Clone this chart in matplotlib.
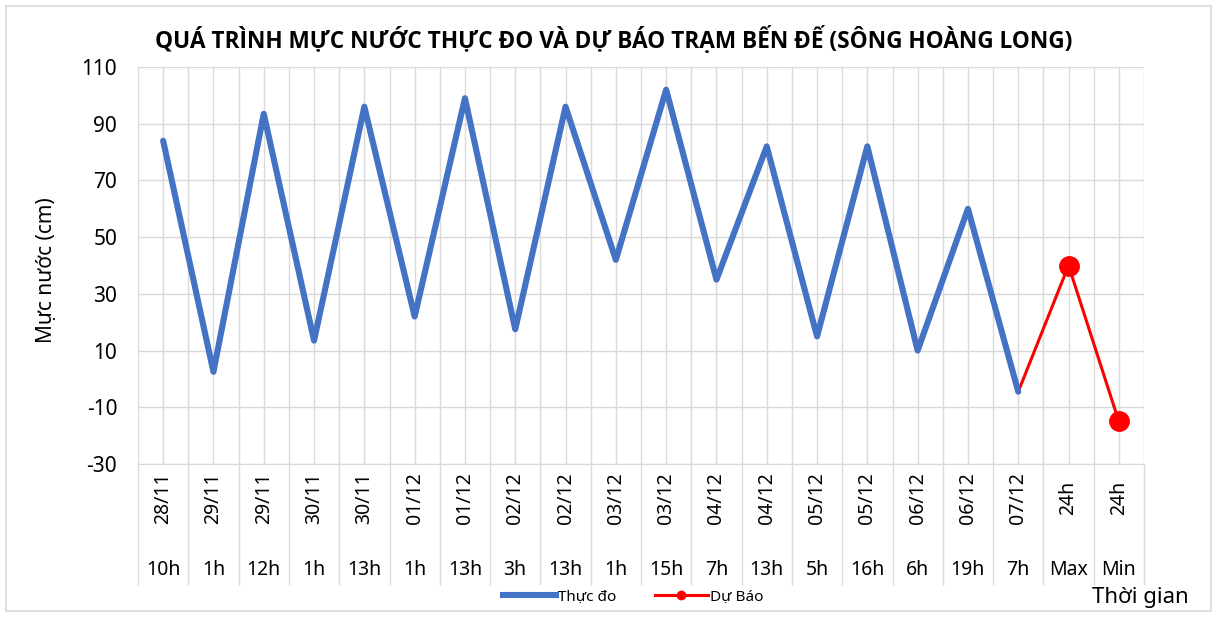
import numpy as np
import matplotlib
matplotlib.use('Agg')
import matplotlib.pyplot as plt
from matplotlib.lines import Line2D
from matplotlib.patches import Rectangle
import matplotlib.transforms as mtransforms

plt.rcParams['font.family'] = ['Noto Sans', 'DejaVu Sans']

# Category labels (two-level axis as in the Excel chart)
dates = ['28/11', '29/11', '29/11', '30/11', '30/11', '01/12', '01/12', '02/12', '02/12', '03/12',
         '03/12', '04/12', '04/12', '05/12', '05/12', '06/12', '06/12', '07/12', '24h', '24h']
hours = ['10h', '1h', '12h', '1h', '13h', '1h', '13h', '3h', '13h', '1h',
         '15h', '7h', '13h', '5h', '16h', '6h', '19h', '7h', 'Max', 'Min']

# Measured water level (cm), points 0..17
thuc_do = [84, 2.5, 93.5, 13.5, 96, 22, 99, 17.5, 96, 42, 102, 35, 82, 15, 82, 10, 60, -4.5]
# Forecast (cm), starts at the last measured point
du_bao = [-4.5, 40, -15]

yticks = [-30, -10, 10, 30, 50, 70, 90, 110]

W, H = 1217, 617
fig = plt.figure(figsize=(W / 100, H / 100), dpi=100)

# outer chart border
fig.patches.append(Rectangle((6 / W, 6 / H), 1 - 12 / W, 1 - 12 / H, transform=fig.transFigure,
                             fill=False, edgecolor='#D9D9D9', linewidth=1.2))

ax = fig.add_axes([138 / W, 1 - 464 / H, (1144 - 138) / W, (464 - 67) / H])

n = len(dates)
x_all = np.arange(n)
x_obs = x_all[:len(thuc_do)]
x_fc = x_all[len(thuc_do) - 1:]

ax.plot(x_fc, du_bao, color='#FF0000', linewidth=2.2, zorder=3)
ax.plot(x_fc[1:], du_bao[1:], 'o', color='#FF0000', markersize=14, zorder=4)
ax.plot(x_obs, thuc_do, color='#4472C4', linewidth=4.4, solid_capstyle='round',
        solid_joinstyle='round', zorder=3)

ax.set_xlim(-0.5, n - 0.5)
ax.set_ylim(-30, 110)
ax.set_yticks(yticks)
ax.set_yticklabels([str(v) for v in yticks], fontsize=15)
ax.tick_params(axis='y', length=0, pad=15)

# boundaries between categories: long ticks downward form the separators
ax.set_xticks(np.arange(-0.5, n, 1.0))
ax.set_xticks(x_all, minor=True)
ax.set_xticklabels([])
ax.tick_params(axis='x', which='major', direction='out', length=87, color='#D9D9D9', width=1)
ax.tick_params(axis='x', which='minor', length=0)
ax.grid(True, which='both', axis='x', color='#D9D9D9', linewidth=1)
ax.grid(True, which='major', axis='y', color='#D9D9D9', linewidth=1)
ax.set_axisbelow(True)
for s in ['top', 'right', 'left']:
    ax.spines[s].set_visible(False)
ax.spines['bottom'].set_color('#D9D9D9')

trans = mtransforms.blended_transform_factory(ax.transData, fig.transFigure)
for i in range(n):
    ax.text(i, 1 - 498 / H, dates[i], rotation=90, ha='center', va='center',
            fontsize=14, transform=trans)
    ax.text(i, 1 - 570 / H, hours[i], ha='center', va='center',
            fontsize=14, transform=trans)

fig.text(614 / W, 1 - 40 / H,
         'QUÁ TRÌNH MỰC NƯỚC THỰC ĐO VÀ DỰ BÁO TRẠM BẾN ĐẾ (SÔNG HOÀNG LONG)',
         ha='center', va='center', fontsize=16.3, fontweight='bold',
         family=['Open Sans', 'DejaVu Sans'])
fig.text(47 / W, 1 - 270 / H, 'Mực nước (cm)', rotation=90, ha='center', va='center', fontsize=15)
fig.text(1092 / W, 1 - 597 / H, 'Thời gian', ha='left', va='center', fontsize=16)

handles = [Line2D([], [], color='#4472C4', linewidth=4.4),
           Line2D([], [], color='#FF0000', linewidth=2.2, marker='o', markersize=6)]
fig.legend(handles, ['Thực đo', 'Dự Báo'], loc='center', bbox_to_anchor=(633 / W, 1 - 597 / H),
           ncol=2, frameon=False, fontsize=11, handlelength=3.5, handletextpad=0.1, columnspacing=2.5)

fig.savefig('out.png', dpi=100)
